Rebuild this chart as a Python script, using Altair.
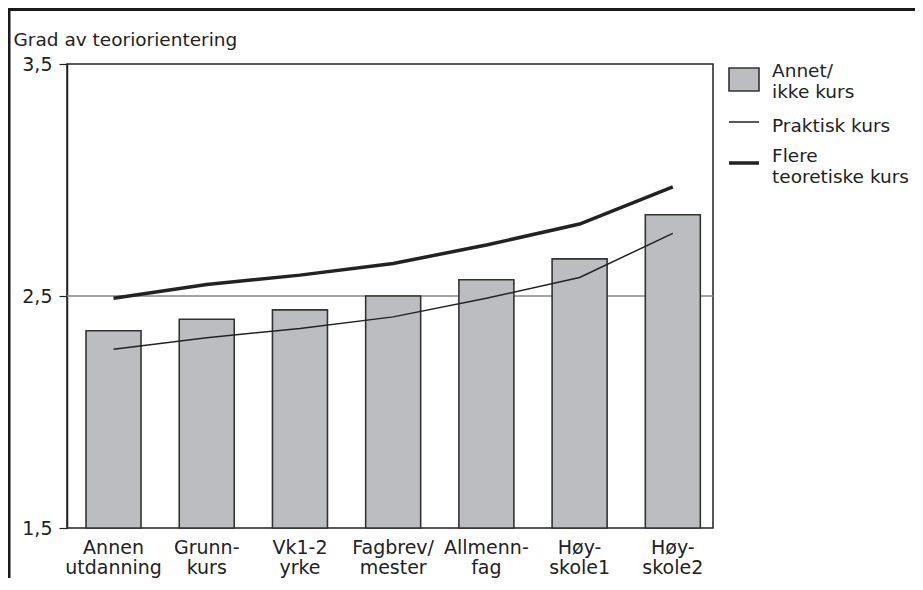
import altair as alt
import pandas as pd

categories = ["Annen\nutdanning", "Grunn-\nkurs", "Vk1-2\nyrke", "Fagbrev/\nmester",
              "Allmenn-\nfag", "Høy-\nskole1", "Høy-\nskole2"]
annet = [2.35, 2.40, 2.44, 2.50, 2.57, 2.66, 2.85]
praktisk = [2.27, 2.32, 2.36, 2.41, 2.49, 2.58, 2.77]
flere = [2.49, 2.55, 2.59, 2.64, 2.72, 2.81, 2.97]
y_ticks = [1.5, 2.5, 3.5]
reference_value = [2.5]
legend_annet = ["Annet/", "ikke kurs"]
legend_praktisk = ["Praktisk kurs"]
legend_flere = ["Flere", "teoretiske kurs"]
y_title = "Grad av teoriorientering"

df = pd.DataFrame({"cat": categories, "annet": annet, "praktisk": praktisk, "flere": flere})

FONT = "DejaVu Sans"
INK = "#222222"
BAR_FILL = "#bcbdc1"
BAR_STROKE = "#333333"

xscale = alt.Scale(domain=categories, paddingInner=0.41, paddingOuter=0.17, align=0.6)
yscale = alt.Scale(domain=[1.5, 3.5], nice=False, zero=False)

x_enc = alt.X("cat:N", scale=xscale, sort=categories, title=None,
              axis=alt.Axis(labelAngle=0, labelExpr="split(datum.label, '\\n')",
                            labelFont=FONT, labelFontSize=19, labelColor=INK,
                            labelLineHeight=20, labelPadding=10, ticks=False,
                            domain=False, labelOverlap=False, labelBound=False))

y_axis = alt.Axis(values=y_ticks, labelExpr="replace(format(datum.value, '.1f'), '.', ',')",
                  labelFont=FONT, labelFontSize=19, labelColor=INK, labelPadding=7,
                  tickSize=8, tickColor=INK, tickWidth=1.2, domainColor=INK, domainWidth=1.5,
                  grid=False, title=y_title, titleAngle=0, titleAlign="left",
                  titleBaseline="alphabetic", titleX=-54, titleY=-19, titleFont=FONT,
                  titleFontSize=18.5, titleFontWeight="normal", titleColor=INK)

base = alt.Chart(df)

ref = alt.Chart(pd.DataFrame({"v": reference_value})).mark_rule(
    color="#858585", strokeWidth=1.5).encode(
    y=alt.Y("v:Q", scale=yscale, axis=y_axis))

bars = base.mark_bar(fill=BAR_FILL, stroke=BAR_STROKE, strokeWidth=1.6).encode(
    x=x_enc,
    y=alt.Y("annet:Q", scale=yscale),
    y2=alt.datum(1.5))

thin = base.mark_line(color=INK, strokeWidth=1.5).encode(
    x=alt.X("cat:N", scale=xscale, sort=categories),
    y=alt.Y("praktisk:Q", scale=yscale))

thick = base.mark_line(color=INK, strokeWidth=3.5).encode(
    x=alt.X("cat:N", scale=xscale, sort=categories),
    y=alt.Y("flere:Q", scale=yscale))

# manual legend
leg_rect = alt.Chart(pd.DataFrame({"label": [" ".join(legend_annet)]})).mark_rect(
    fill=BAR_FILL, stroke=BAR_STROKE, strokeWidth=1.6).encode(
    x=alt.value(662), x2=alt.value(692), y=alt.value(4), y2=alt.value(27))
leg_thin = alt.Chart(pd.DataFrame({"label": legend_praktisk})).mark_rule(
    color=INK, strokeWidth=1.5).encode(
    x=alt.value(662), x2=alt.value(692), y=alt.value(58))
leg_thick = alt.Chart(pd.DataFrame({"label": [" ".join(legend_flere)]})).mark_rule(
    color=INK, strokeWidth=3.5).encode(
    x=alt.value(662), x2=alt.value(692), y=alt.value(99))

def leg_text(label, ypix):
    return alt.Chart(pd.DataFrame({"label": [label]})).mark_text(
        align="left", baseline="alphabetic", font=FONT, fontSize=18.5,
        color=INK).encode(
        x=alt.value(705), y=alt.value(ypix), text="label:N")

texts = [
    leg_text(legend_annet[0], 13),
    leg_text(legend_annet[1], 34),
    leg_text(legend_praktisk[0], 68),
    leg_text(legend_flere[0], 98),
    leg_text(legend_flere[1], 119),
]

# outer frame
frame_top = alt.Chart(pd.DataFrame({"label": ["frame"]})).mark_rule(
    color="#1a1a1a", strokeWidth=3).encode(
    x=alt.value(-60), x2=alt.value(850), y=alt.value(-54.5))
frame_left = alt.Chart(pd.DataFrame({"label": ["frame"]})).mark_rule(
    color="#1a1a1a", strokeWidth=3).encode(
    x=alt.value(-58), y=alt.value(-56), y2=alt.value(520))

chart = alt.layer(ref, bars, thin, thick, leg_rect, leg_thin, leg_thick, *texts,
                  frame_top, frame_left).properties(
    width=646, height=464,
    autosize=alt.AutoSizeParams(type="none"),
    padding={"left": 59, "top": 56, "right": 202, "bottom": 50},
    background="white",
).configure_view(stroke=INK, strokeWidth=1.5)

chart.save("out.html", embed_options={"renderer": "svg", "actions": False})
